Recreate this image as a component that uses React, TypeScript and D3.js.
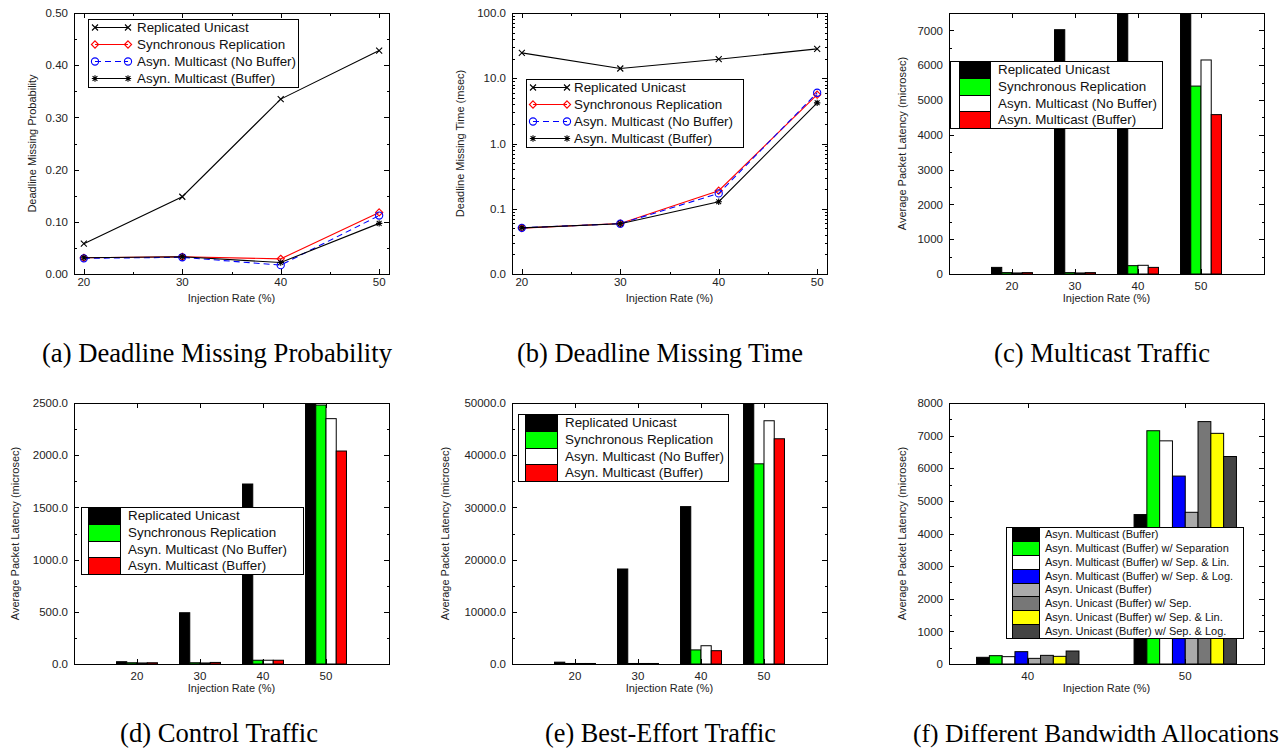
import React from "react";
import * as d3 from "d3";

// ---------------- DATA ----------------
const rates = [20, 30, 40, 50];
const seriesNames = [
  "Replicated Unicast",
  "Synchronous Replication",
  "Asyn. Multicast (No Buffer)",
  "Asyn. Multicast (Buffer)",
];

// (a) Deadline Missing Probability
const probReplicated = [0.058, 0.148, 0.335, 0.428];
const probSync = [0.031, 0.033, 0.029, 0.118];
const probNoBuf = [0.030, 0.032, 0.017, 0.112];
const probBuf = [0.031, 0.033, 0.022, 0.097];
const probTicks = [0, 0.1, 0.2, 0.3, 0.4, 0.5];

// (b) Deadline Missing Time (msec, log)
const timeReplicated = [24.5, 14.1, 19.6, 28.2];
const timeSync = [0.0505, 0.0594, 0.189, 5.6];
const timeNoBuf = [0.051, 0.059, 0.172, 6.0];
const timeBuf = [0.051, 0.059, 0.128, 4.2];
const timeTicks = [0.01, 0.1, 1, 10, 100];

// (c) Multicast Traffic
const mcReplicated = [190, 7020, 9800, 15500];
const mcSync = [40, 40, 240, 5400];
const mcNoBuf = [30, 30, 250, 6150];
const mcBuf = [40, 40, 190, 4580];
const mcTicks = [0, 1000, 2000, 3000, 4000, 5000, 6000, 7000];

// (d) Control Traffic
const ctlReplicated = [22, 491, 1724, 3300];
const ctlSync = [12, 12, 36, 2480];
const ctlNoBuf = [10, 10, 36, 2350];
const ctlBuf = [12, 15, 36, 2040];
const ctlTicks = [0, 500, 1000, 1500, 2000, 2500];

// (e) Best-Effort Traffic
const beReplicated = [350, 18200, 30150, 62000];
const beSync = [100, 100, 2700, 38350];
const beNoBuf = [100, 100, 3500, 46600];
const beBuf = [100, 100, 2550, 43150];
const beTicks = [0, 10000, 20000, 30000, 40000, 50000];

// (f) Different Bandwidth Allocations
const bwRates = [40, 50];
const bwNames = [
  "Asyn. Multicast (Buffer)",
  "Asyn. Multicast (Buffer) w/ Separation",
  "Asyn. Multicast (Buffer) w/ Sep. & Lin.",
  "Asyn. Multicast (Buffer) w/ Sep. & Log.",
  "Asyn. Unicast (Buffer)",
  "Asyn. Unicast (Buffer) w/ Sep.",
  "Asyn. Unicast (Buffer) w/ Sep. & Lin.",
  "Asyn. Unicast (Buffer) w/ Sep. & Log.",
];
const bwAMBuf = [205, 4580];
const bwAMSep = [255, 7150];
const bwAMSepLin = [225, 6840];
const bwAMSepLog = [378, 5760];
const bwAUBuf = [173, 4650];
const bwAUSep = [265, 7430];
const bwAUSepLin = [235, 7070];
const bwAUSepLog = [398, 6360];
const bwTicks = [0, 1000, 2000, 3000, 4000, 5000, 6000, 7000, 8000];

const captions = [
  "(a) Deadline Missing Probability",
  "(b) Deadline Missing Time",
  "(c) Multicast Traffic",
  "(d) Control Traffic",
  "(e) Best-Effort Traffic",
  "(f) Different Bandwidth Allocations",
];

// ---------------- STYLE ----------------
const FONT = "'Liberation Sans', Arial, Helvetica, sans-serif";
const SERIF = "Liberation Serif";
const TICK_FS = 11.5;
const TITLE_FS = 11;
const barColors4 = ["#000000", "#00ff00", "#ffffff", "#ff0000"];
const barColors8 = ["#000000", "#00ff00", "#ffffff", "#0000ff", "#aaaaaa", "#777777", "#ffff00", "#444444"];

type Frame = { x: number; y: number; w: number; h: number };

function markerPath(kind: string, x: number, y: number) {
  if (kind === "cross") {
    const s = 3;
    return `M${x - s},${y - s}L${x + s},${y + s}M${x - s},${y + s}L${x + s},${y - s}`;
  }
  if (kind === "diamond") {
    const s = 3.6;
    return `M${x},${y - s}L${x + s},${y}L${x},${y + s}L${x - s},${y}Z`;
  }
  if (kind === "star") {
    const s = 3.2;
    const d = 2.4;
    return `M${x - s},${y}L${x + s},${y}M${x},${y - s}L${x},${y + s}M${x - d},${y - d}L${x + d},${y + d}M${x - d},${y + d}L${x + d},${y - d}`;
  }
  return "";
}

function Marker({ kind, x, y, color }: { kind: string; x: number; y: number; color: string }) {
  if (kind === "circle") return <circle cx={x} cy={y} r={3.6} fill="none" stroke={color} strokeWidth={1.1} />;
  return <path d={markerPath(kind, x, y)} fill="none" stroke={color} strokeWidth={1.1} />;
}

function FrameAxes({
  frame,
  yScale,
  yMajor,
  yMinor,
  yFmt,
  xPositions,
  xLabels,
  xMinor,
  xLabelDy,
  yTitle,
  yTitleX,
}: any) {
  const { x, y, w, h } = frame;
  const L = 5;
  const l = 2.5;
  return (
    <g>
      <rect x={x + 0.5} y={y + 0.5} width={w} height={h} fill="none" stroke="#000" strokeWidth={1} shapeRendering="crispEdges" />
      {yMajor.map((v: number, i: number) => {
        const yy = Math.round(yScale(v)) + 0.5;
        return (
          <g key={"ym" + i}>
            <line x1={x} x2={x + L} y1={yy} y2={yy} stroke="#000" shapeRendering="crispEdges" />
            <line x1={x + w} x2={x + w - L} y1={yy} y2={yy} stroke="#000" shapeRendering="crispEdges" />
            <text x={x - 6} y={yScale(v)} dy="0.36em" textAnchor="end" fontFamily={FONT} fontSize={TICK_FS} fill="#222">
              {yFmt(v)}
            </text>
          </g>
        );
      })}
      {yMinor.map((v: number, i: number) => {
        const yy = Math.round(yScale(v)) + 0.5;
        return (
          <g key={"yn" + i}>
            <line x1={x} x2={x + l} y1={yy} y2={yy} stroke="#000" shapeRendering="crispEdges" />
            <line x1={x + w} x2={x + w - l} y1={yy} y2={yy} stroke="#000" shapeRendering="crispEdges" />
          </g>
        );
      })}
      {xPositions.map((px: number, i: number) => {
        const xx = Math.round(px) + 0.5;
        return (
          <g key={"xm" + i}>
            <line x1={xx} x2={xx} y1={y + h} y2={y + h - L} stroke="#000" shapeRendering="crispEdges" />
            <line x1={xx} x2={xx} y1={y} y2={y + L} stroke="#000" shapeRendering="crispEdges" />
            <text x={px} y={y + h + xLabelDy} textAnchor="middle" fontFamily={FONT} fontSize={TICK_FS} fill="#222">
              {xLabels[i]}
            </text>
          </g>
        );
      })}
      {(xMinor || []).map((px: number, i: number) => {
        const xx = Math.round(px) + 0.5;
        return (
          <g key={"xn" + i}>
            <line x1={xx} x2={xx} y1={y + h} y2={y + h - l} stroke="#000" shapeRendering="crispEdges" />
            <line x1={xx} x2={xx} y1={y} y2={y + l} stroke="#000" shapeRendering="crispEdges" />
          </g>
        );
      })}
      <text x={x + w / 2} y={y + h + 28} textAnchor="middle" fontFamily={FONT} fontSize={TITLE_FS} fill="#222">
        Injection Rate (%)
      </text>
      <text
        transform={`translate(${yTitleX},${y + h / 2}) rotate(-90)`}
        textAnchor="middle"
        dy="0.35em"
        fontFamily={FONT}
        fontSize={TITLE_FS}
        fill="#222"
      >
        {yTitle}
      </text>
    </g>
  );
}

function LinePanel({ id, frame, yScale, yMajor, yMinor, yFmt, series, yTitle, yTitleX, legend }: any) {
  const xScale = d3.scaleLinear().domain([19, 51]).range([frame.x, frame.x + frame.w]);
  const line = d3
    .line<number>()
    .x((_, i) => xScale(rates[i]))
    .y((v) => yScale(v));
  const xMinor = [25, 35, 45].map((v) => xScale(v));
  return (
    <g>
      <defs>
        <clipPath id={id}>
          <rect x={frame.x} y={frame.y} width={frame.w + 1} height={frame.h + 1} />
        </clipPath>
      </defs>
      <FrameAxes
        frame={frame}
        yScale={yScale}
        yMajor={yMajor}
        yMinor={yMinor}
        yFmt={yFmt}
        xPositions={rates.map((r) => xScale(r))}
        xLabels={rates.map(String)}
        xMinor={xMinor}
        xLabelDy={11.5}
        yTitle={yTitle}
        yTitleX={yTitleX}
      />
      <g clipPath={`url(#${id})`}>
        {series.map((s: any, si: number) => (
          <g key={si}>
            <path d={line(s.values) || ""} fill="none" stroke={s.color} strokeWidth={1.1} strokeDasharray={s.dash} />
            {s.values.map((v: number, i: number) => (
              <Marker key={i} kind={s.marker} x={xScale(rates[i])} y={yScale(v)} color={s.color} />
            ))}
          </g>
        ))}
      </g>
      <g>
        <rect
          x={legend.x0 + 0.5}
          y={legend.y0 + 0.5}
          width={legend.x1 - legend.x0}
          height={legend.y1 - legend.y0}
          fill="#fff"
          stroke="#000"
          shapeRendering="crispEdges"
        />
        {series.map((s: any, si: number) => {
          const yy = legend.y0 + (si + 0.5) * ((legend.y1 - legend.y0) / series.length);
          return (
            <g key={si}>
              <line x1={legend.sx0} x2={legend.sx1} y1={yy} y2={yy} stroke={s.color} strokeWidth={1.1} strokeDasharray={s.dash} />
              <Marker kind={s.marker} x={legend.sx0} y={yy} color={s.color} />
              <Marker kind={s.marker} x={legend.sx1} y={yy} color={s.color} />
              <text x={legend.tx} y={yy} dy="0.36em" fontFamily={FONT} fontSize={13.4} fill="#111">
                {s.name}
              </text>
            </g>
          );
        })}
      </g>
    </g>
  );
}

function BarPanel({ id, frame, categories, xDomain, yScale, yMajor, yMinor, yFmt, series, colors, yTitle, yTitleX, legend }: any) {
  const xScale = d3.scaleLinear().domain(xDomain).range([frame.x, frame.x + frame.w]);
  const unit = xScale(1) - xScale(0);
  const n = series.length;
  const bw = (0.65 * unit) / n;
  return (
    <g>
      <defs>
        <clipPath id={id}>
          <rect x={frame.x} y={frame.y} width={frame.w + 1} height={frame.h + 1} />
        </clipPath>
      </defs>
      <g clipPath={`url(#${id})`}>
        {series.map((s: any, si: number) =>
          s.values.map((v: number, ci: number) => {
            const x0 = xScale(ci) + (si - n / 2) * bw;
            const y0 = yScale(v);
            const yb = yScale(0);
            return (
              <rect
                key={si + "-" + ci}
                x={x0}
                y={Math.min(y0, yb)}
                width={bw}
                height={Math.abs(yb - y0)}
                fill={colors[si]}
                stroke="#000"
                strokeWidth={1}
              />
            );
          })
        )}
      </g>
      <FrameAxes
        frame={frame}
        yScale={yScale}
        yMajor={yMajor}
        yMinor={yMinor}
        yFmt={yFmt}
        xPositions={categories.map((_: any, i: number) => xScale(i))}
        xLabels={categories.map(String)}
        xLabelDy={16}
        yTitle={yTitle}
        yTitleX={yTitleX}
      />
      <g>
        <rect
          x={legend.x0 + 0.5}
          y={legend.y0 + 0.5}
          width={legend.x1 - legend.x0}
          height={legend.y1 - legend.y0}
          fill="#fff"
          stroke="#000"
          shapeRendering="crispEdges"
        />
        {series.map((s: any, si: number) => {
          const eh = (legend.y1 - legend.y0) / n;
          const yTop = legend.y0 + si * eh;
          return (
            <g key={si}>
              <rect
                x={legend.sx0 + 0.5}
                y={yTop + 0.5}
                width={legend.sx1 - legend.sx0}
                height={eh}
                fill={colors[si]}
                stroke="#000"
                shapeRendering="crispEdges"
              />
              <text x={legend.tx} y={yTop + eh / 2} dy="0.36em" fontFamily={FONT} fontSize={legend.fs} fill="#111">
                {s.name}
              </text>
            </g>
          );
        })}
      </g>
    </g>
  );
}

const colX = [74, 512, 949];
const rowY = [13, 403];
const FW = 315;
const FH = 261;

export default function App() {
  const fa: Frame = { x: colX[0], y: rowY[0], w: FW, h: FH };
  const fb: Frame = { x: colX[1], y: rowY[0], w: FW, h: FH };
  const fc: Frame = { x: colX[2], y: rowY[0], w: FW, h: FH };
  const fd: Frame = { x: colX[0], y: rowY[1], w: FW, h: FH };
  const fe: Frame = { x: colX[1], y: rowY[1], w: FW, h: FH };
  const ff: Frame = { x: colX[2], y: rowY[1], w: FW, h: FH };

  const lineStyles = [
    { color: "#000000", dash: undefined, marker: "cross" },
    { color: "#ff0000", dash: undefined, marker: "diamond" },
    { color: "#0000ff", dash: "6,4", marker: "circle" },
    { color: "#000000", dash: undefined, marker: "star" },
  ];

  const yA = d3.scaleLinear().domain([0, 0.5]).range([fa.y + fa.h, fa.y]);
  const seriesA = [probReplicated, probSync, probNoBuf, probBuf].map((values, i) => ({ name: seriesNames[i], values, ...lineStyles[i] }));

  const yB = d3.scaleLog().domain([0.01, 100]).range([fb.y + fb.h, fb.y]);
  const seriesB = [timeReplicated, timeSync, timeNoBuf, timeBuf].map((values, i) => ({ name: seriesNames[i], values, ...lineStyles[i] }));
  const bMinor: number[] = [];
  timeTicks.slice(0, -1).forEach((dec) => {
    for (let k = 2; k <= 9; k++) bMinor.push(dec * k);
  });

  const yC = d3.scaleLinear().domain([0, 7500]).range([fc.y + fc.h, fc.y]);
  const seriesC = [mcReplicated, mcSync, mcNoBuf, mcBuf].map((values, i) => ({ name: seriesNames[i], values }));

  const yD = d3.scaleLinear().domain([0, 2500]).range([fd.y + fd.h, fd.y]);
  const seriesD = [ctlReplicated, ctlSync, ctlNoBuf, ctlBuf].map((values, i) => ({ name: seriesNames[i], values }));

  const yE = d3.scaleLinear().domain([0, 50000]).range([fe.y + fe.h, fe.y]);
  const seriesE = [beReplicated, beSync, beNoBuf, beBuf].map((values, i) => ({ name: seriesNames[i], values }));

  const yF = d3.scaleLinear().domain([0, 8000]).range([ff.y + ff.h, ff.y]);
  const seriesF = [bwAMBuf, bwAMSep, bwAMSepLin, bwAMSepLog, bwAUBuf, bwAUSep, bwAUSepLin, bwAUSepLog].map((values, i) => ({
    name: bwNames[i],
    values,
  }));

  const halfSteps = (ticks: number[], top: number) => {
    const step = (ticks[1] - ticks[0]) / 2;
    const out: number[] = [];
    for (let v = ticks[0] + step; v <= top + 1e-9; v += 2 * step) out.push(v);
    return out;
  };

  const captionPos = [
    { x: 217, y: 362, w: 350, fs: 27 },
    { x: 660, y: 362, w: 286, fs: 27 },
    { x: 1102, y: 362, w: 216, fs: 27 },
    { x: 219, y: 742, w: 198, fs: 27 },
    { x: 660.5, y: 742, w: 231, fs: 27 },
    { x: 1096, y: 742, w: 366, fs: 24.5 },
  ];

  return (
    <div style={{ position: "absolute", left: 0, top: 0 }}>
      <svg width={1286} height={756} style={{ display: "block", background: "#fff" }}>
        <LinePanel
          id="clipA"
          frame={fa}
          yScale={yA}
          yMajor={probTicks}
          yMinor={halfSteps(probTicks, 0.5)}
          yFmt={d3.format(".2f")}
          series={seriesA}
          yTitle="Deadline Missing Probability"
          yTitleX={32}
          legend={{ x0: 88, x1: 298, y0: 19, y1: 87, sx0: 95, sx1: 128, tx: 137 }}
        />
        <LinePanel
          id="clipB"
          frame={fb}
          yScale={yB}
          yMajor={timeTicks}
          yMinor={bMinor}
          yFmt={d3.format(".1f")}
          series={seriesB}
          yTitle="Deadline Missing Time (msec)"
          yTitleX={460}
          legend={{ x0: 526, x1: 743, y0: 79, y1: 147, sx0: 533, sx1: 567, tx: 574 }}
        />
        <BarPanel
          id="clipC"
          frame={fc}
          categories={rates}
          xDomain={[-1, 4]}
          yScale={yC}
          yMajor={mcTicks}
          yMinor={halfSteps(mcTicks, 7500)}
          yFmt={d3.format("d")}
          series={seriesC}
          colors={barColors4}
          yTitle="Average Packet Latency (microsec)"
          yTitleX={902}
          legend={{ x0: 950, x1: 1162, y0: 61, y1: 128, sx0: 959, sx1: 990, tx: 998, fs: 13.4 }}
        />
        <BarPanel
          id="clipD"
          frame={fd}
          categories={rates}
          xDomain={[-1, 4]}
          yScale={yD}
          yMajor={ctlTicks}
          yMinor={halfSteps(ctlTicks, 2500)}
          yFmt={d3.format(".1f")}
          series={seriesD}
          colors={barColors4}
          yTitle="Average Packet Latency (microsec)"
          yTitleX={15}
          legend={{ x0: 81, x1: 303, y0: 507, y1: 574, sx0: 88, sx1: 120, tx: 128, fs: 13.4 }}
        />
        <BarPanel
          id="clipE"
          frame={fe}
          categories={rates}
          xDomain={[-1, 4]}
          yScale={yE}
          yMajor={beTicks}
          yMinor={halfSteps(beTicks, 50000)}
          yFmt={d3.format(".1f")}
          series={seriesE}
          colors={barColors4}
          yTitle="Average Packet Latency (microsec)"
          yTitleX={445}
          legend={{ x0: 518, x1: 728, y0: 414, y1: 481, sx0: 525, sx1: 557, tx: 565, fs: 13.4 }}
        />
        <BarPanel
          id="clipF"
          frame={ff}
          categories={bwRates}
          xDomain={[-0.5, 1.5]}
          yScale={yF}
          yMajor={bwTicks}
          yMinor={halfSteps(bwTicks, 8000)}
          yFmt={d3.format("d")}
          series={seriesF}
          colors={barColors8}
          yTitle="Average Packet Latency (microsec)"
          yTitleX={902}
          legend={{ x0: 1006, x1: 1243, y0: 527, y1: 638, sx0: 1012, sx1: 1039, tx: 1045, fs: 11 }}
        />
        {captions.map((c, i) => (
          <text
            key={i}
            x={captionPos[i].x}
            y={captionPos[i].y}
            textAnchor="middle"
            fontFamily={SERIF}
            fontSize={captionPos[i].fs}
            textLength={captionPos[i].w}
            lengthAdjust="spacingAndGlyphs"
            fill="#000"
          >
            {c}
          </text>
        ))}
      </svg>
    </div>
  );
}
